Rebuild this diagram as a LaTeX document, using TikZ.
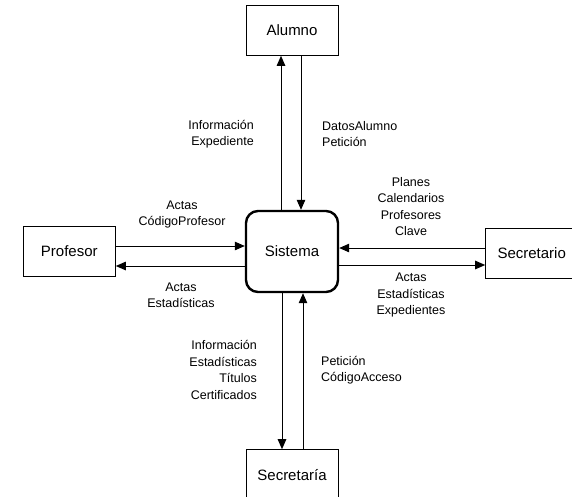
\documentclass[tikz,border=0pt]{standalone}
\usepackage{fontspec}
\setmainfont{Liberation Sans}
\usetikzlibrary{positioning,arrows.meta}

\tikzset{
  entity/.style={draw, line width=1pt, minimum width=92pt, minimum height=50pt,
    inner sep=0pt, font=\fontsize{15}{18}\selectfont},
  process/.style={entity, line width=2.4pt, minimum height=81pt, rounded corners=12pt},
  flow/.style={line width=1pt, -{Triangle[length=10pt,width=8.5pt]}},
  msg/.style={inner sep=0pt, font=\fontsize{12.5}{16.5}\selectfont}
}

\begin{document}
\begin{tikzpicture}[x=1pt,y=-1pt]
  \useasboundingbox (0,0) rectangle (572,496);

  % Define nodes
  \node[process]                    (sis) at (292,251.5) {Sistema};
  \node[entity, above=154pt of sis] (alu) {Alumno};
  \node[entity, left=129pt of sis]  (pro) {Profesor};
  \node[entity, right=146pt of sis, yshift=-1.5pt] (sec) {Secretario};
  \node[entity, below=156pt of sis] (sri) {Secretaría};

  % Connect the nodes
  \draw[flow] ([xshift=-11pt]sis.north) -- ([xshift=-11pt]sis.north |- alu.south);
  \draw[flow] ([xshift=9pt]sis.north |- alu.south) -- ([xshift=9pt]sis.north);
  \draw[flow] ([yshift=5.5pt]pro.east) -- ([yshift=5.5pt]pro.east -| sis.west);
  \draw[flow] ([yshift=-14.5pt]pro.east -| sis.west) -- ([yshift=-14.5pt]pro.east);
  \draw[flow] ([yshift=5pt]sec.west) -- ([yshift=5pt]sec.west -| sis.east);
  \draw[flow] ([yshift=-12pt]sec.west -| sis.east) -- ([yshift=-12pt]sec.west);
  \draw[flow] ([xshift=-10pt]sis.south) -- ([xshift=-10pt]sis.south |- sri.north);
  \draw[flow] ([xshift=11pt]sis.south |- sri.north) -- ([xshift=11pt]sis.south);

  % Messages
  \node[msg, align=right, anchor=east] (m1) at (254,134) {Información\\Expediente};
  \node[msg, align=left, anchor=west]  (m2) at (322,134) {DatosAlumno\\Petición};
  \node[msg, align=center]             (m3) at (182,214.5) {Actas\\CódigoProfesor};
  \node[msg, align=center]             (m4) at (181,295.5) {Actas\\Estadísticas};
  \node[msg, align=center]             (m5) at (411,206.5) {Planes\\Calendarios\\Profesores\\Clave};
  \node[msg, align=center]             (m6) at (411,295) {Actas\\Estadísticas\\Expedientes};
  \node[msg, align=right, anchor=east] (m7) at (257,370) {Información\\Estadísticas\\Títulos\\Certificados};
  \node[msg, align=left, anchor=west]  (m8) at (321,370) {Petición\\CódigoAcceso};
\end{tikzpicture}
\end{document}
